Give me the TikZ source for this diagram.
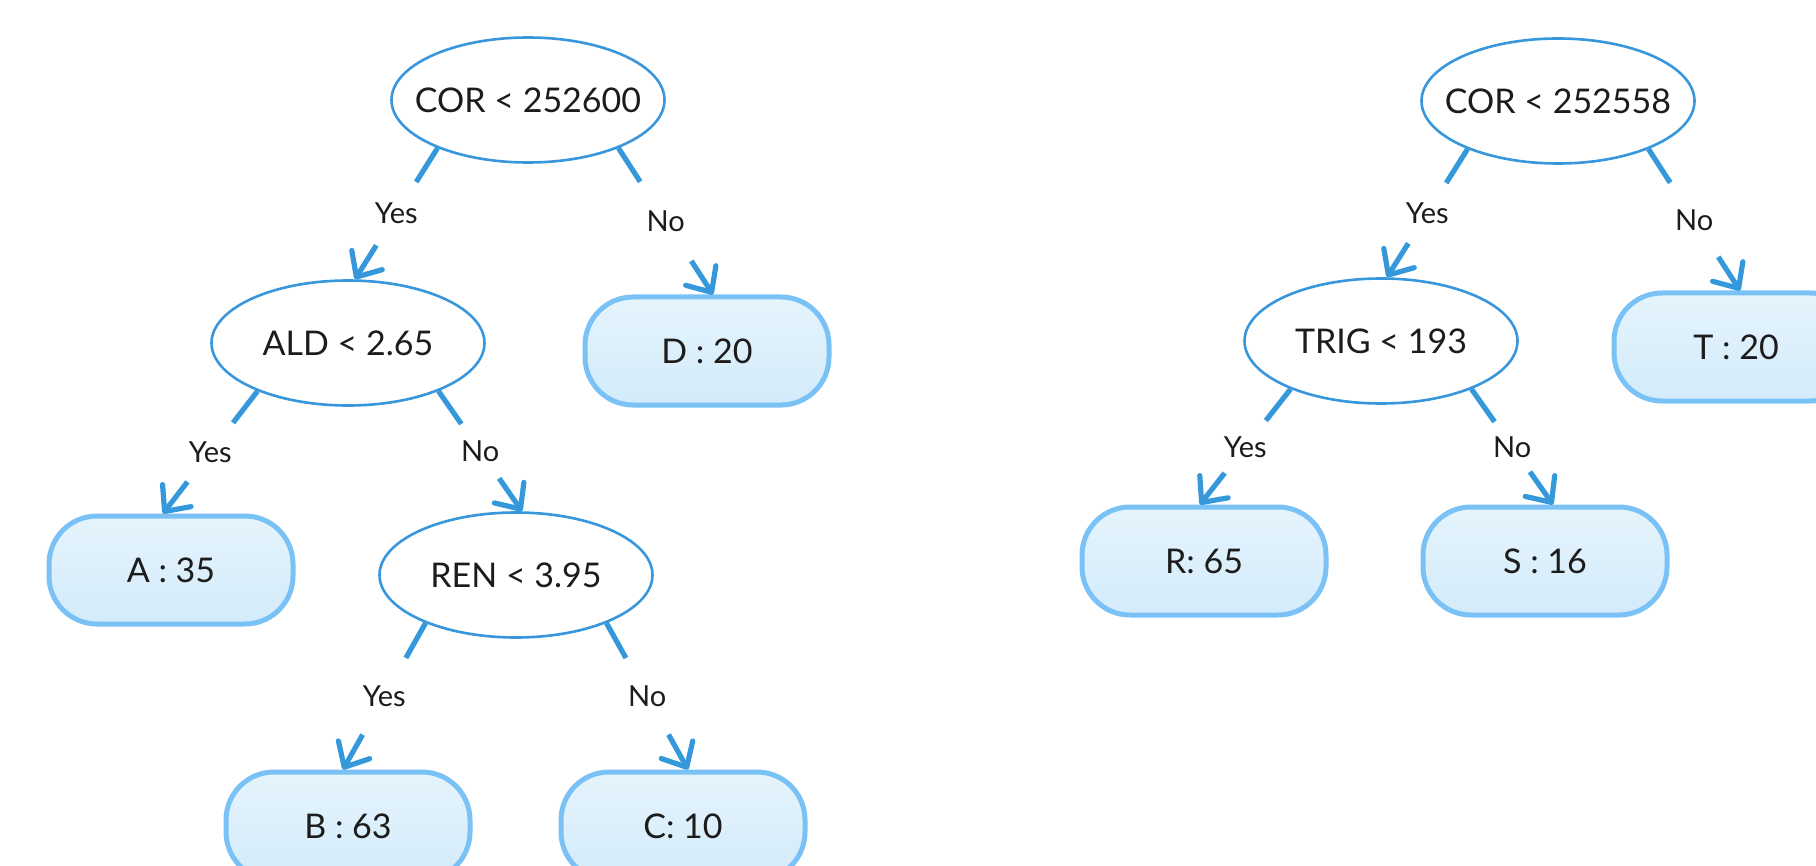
\documentclass[tikz,border=0pt]{standalone}
\usepackage{fontspec}
\setmainfont{Lato}
\usetikzlibrary{shapes.geometric,arrows.meta,calc}

\definecolor{splitblue}{RGB}{55,150,220}
\definecolor{linkblue}{RGB}{52,152,219}
\definecolor{leafedge}{RGB}{122,194,246}
\definecolor{leaftop}{RGB}{229,244,252}
\definecolor{leafbottom}{RGB}{211,235,251}
\definecolor{ink}{RGB}{28,28,28}

% split text is boxed at zero width so the ellipse keeps its fixed size
\newcommand\splittext[1]{\makebox[0pt]{#1}}

% one decision branch: stub at the parent, answer in the gap, arrow at the child
\newcommand\branch[3]{%
  \draw[link] (#1) -- ($(#1)!20pt!(#2)$);
  \draw[link,tip] ($(#2)!20pt!(#1)$) -- (#2);
  \path (#1) -- node[answer]{#3} (#2);
}

\begin{document}
\begin{tikzpicture}[x=0.5pt,y=-0.5pt,
  split/.style={ellipse, draw=splitblue, line width=1.3pt, fill=white,
    minimum width=136.5pt, minimum height=62.5pt, inner sep=0pt,
    text=ink, font=\fontsize{17}{20}\selectfont},
  leaf/.style={rectangle, rounded corners=24pt, draw=leafedge, line width=2.5pt,
    top color=leaftop, bottom color=leafbottom,
    minimum width=122pt, minimum height=54pt, inner sep=0pt,
    text=ink, font=\fontsize{17}{20}\selectfont},
  link/.style={draw=linkblue, line width=2.6pt},
  tip/.style={-{Straight Barb[length=10pt,width=18pt,round]}},
  answer/.style={text=ink, font=\fontsize{14.5}{17}\selectfont, inner sep=0pt},
]
\useasboundingbox (0,0) rectangle (1816,866);
\clip (0,0) rectangle (1816,866);

% ---- first tree ----
\node[split] (r1)  at (528,100) {\splittext{COR < 252600}};
\node[split] (ald) at (348,343) {\splittext{ALD < 2.65}};
\node[leaf]  (d)   at (707,351) {D : 20};
\node[leaf]  (a)   at (171,570) {A : 35};
\node[split] (ren) at (516,575) {\splittext{REN < 3.95}};
\node[leaf]  (b)   at (348,826) {B : 63};
\node[leaf]  (c)   at (683,826) {C: 10};

% ---- second tree ----
\node[split] (r2)   at (1558,101) {\splittext{COR < 252558}};
\node[split] (trig) at (1381,341) {\splittext{TRIG < 193}};
\node[leaf]  (t)    at (1736,347) {T : 20};
\node[leaf]  (r)    at (1204,561) {R: 65};
\node[leaf]  (s)    at (1545,561) {S : 16};

% branch end points
\coordinate (r1y)  at (r1.208);   \coordinate (aldin) at ([xshift=3.5pt]ald.north);
\coordinate (r1n)  at (r1.332);   \coordinate (din)   at ([xshift=3pt]d.north);
\coordinate (aldy) at (ald.208);  \coordinate (ain)   at ([xshift=-4pt]a.north);
\coordinate (aldn) at (ald.332);  \coordinate (renin) at ([xshift=3pt]ren.north);
\coordinate (reny) at (ren.208);  \coordinate (bin)   at ([xshift=-2.5pt]b.north);
\coordinate (renn) at (ren.332);  \coordinate (cin)   at ([xshift=2.5pt]c.north);
\coordinate (r2y)  at (r2.208);   \coordinate (trigin) at ([xshift=3pt]trig.north);
\coordinate (r2n)  at (r2.332);   \coordinate (tin)   at ([xshift=2pt]t.north);
\coordinate (trigy) at (trig.208); \coordinate (rin)  at ([xshift=-2pt]r.north);
\coordinate (trign) at (trig.332); \coordinate (sin)  at ([xshift=4pt]s.north);

\branch{r1y}{aldin}{Yes}
\branch{r1n}{din}{No}
\branch{aldy}{ain}{Yes}
\branch{aldn}{renin}{No}
\branch{reny}{bin}{Yes}
\branch{renn}{cin}{No}
\branch{r2y}{trigin}{Yes}
\branch{r2n}{tin}{No}
\branch{trigy}{rin}{Yes}
\branch{trign}{sin}{No}
\end{tikzpicture}
\end{document}
